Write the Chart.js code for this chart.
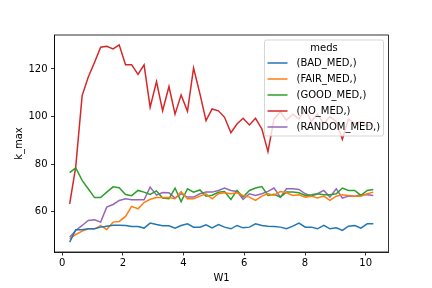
<!DOCTYPE html>
<html>
<head>
<meta charset="utf-8">
<script src="https://cdn.jsdelivr.net/npm/chart.js@4.4.0/dist/chart.umd.min.js"></script>
<style>
  html, body { margin: 0; padding: 0; background: #ffffff; }
  #wrap { width: 432px; height: 288px; }
</style>
</head>
<body>
<div id="wrap"><canvas id="kmaxChart" width="432" height="288"></canvas></div>
<script>
// Données
const W1 = [0.25, 0.45, 0.66, 0.86, 1.07, 1.27, 1.47, 1.68, 1.88, 2.09,
            2.29, 2.50, 2.70, 2.90, 3.11, 3.31, 3.52, 3.72, 3.92, 4.13,
            4.33, 4.54, 4.74, 4.94, 5.15, 5.35, 5.56, 5.76, 5.96, 6.17,
            6.37, 6.58, 6.78, 6.98, 7.19, 7.39, 7.60, 7.80, 8.01, 8.21,
            8.41, 8.62, 8.82, 9.03, 9.23, 9.43, 9.64, 9.84, 10.05, 10.25];

const badMed = [47.3, 52.5, 52.5, 52.9, 52.9, 53.6, 54.0, 54.4, 54.4, 54.3,
                53.9, 53.9, 53.2, 55.3, 54.7, 54.2, 54.2, 53.2, 54.3, 55.0,
                53.6, 53.6, 54.6, 53.3, 54.7, 53.6, 52.9, 54.3, 53.3, 53.6,
                55.0, 54.3, 54.0, 53.9, 53.6, 52.9, 54.0, 55.3, 53.6, 53.6,
                52.9, 54.3, 52.9, 53.3, 52.2, 54.0, 54.3, 53.2, 55.0, 55.0];

const fairMed = [48.7, 50.5, 51.9, 52.9, 52.9, 54.2, 52.6, 55.7, 56.0, 58.1,
                 62.3, 61.3, 63.9, 65.3, 66.0, 66.0, 66.0, 65.5, 68.5, 65.5,
                 65.5, 66.6, 67.6, 65.5, 67.6, 68.0, 67.6, 68.0, 66.9, 66.2,
                 64.8, 66.6, 67.6, 67.0, 68.5, 68.0, 66.9, 67.2, 66.2, 66.6,
                 65.8, 66.6, 64.8, 66.6, 67.2, 66.9, 66.6, 66.6, 67.6, 68.3];

const goodMed = [76.5, 78.5, 73.2, 69.7, 66.0, 66.0, 68.3, 70.5, 70.1, 67.3,
                 66.8, 69.0, 68.3, 67.3, 68.8, 65.8, 65.5, 70.0, 64.3, 69.7,
                 68.3, 69.2, 66.6, 67.0, 68.2, 68.5, 65.2, 69.0, 66.2, 69.0,
                 70.0, 70.6, 66.9, 67.4, 66.2, 68.3, 68.3, 68.0, 66.9, 67.2,
                 67.6, 67.2, 67.2, 67.6, 70.0, 69.0, 69.0, 66.9, 69.0, 69.4];

const noMed = [63.4, 79.0, 108.8, 116.5, 122.8, 129.1, 129.5, 128.4, 130.1, 121.8,
               121.8, 117.7, 121.7, 103.9, 114.7, 102.5, 112.6, 101.0, 109.1, 102.2,
               120.4, 109.5, 98.3, 103.2, 102.4, 99.7, 93.2, 96.9, 99.3, 96.5,
               99.3, 94.8, 85.3, 99.0, 102.0, 98.5, 101.0, 99.0, 103.0, 98.0,
               101.0, 97.0, 100.0, 98.0, 90.5, 99.0, 97.0, 98.0, 96.0, 97.0];

const randomMed = [49.4, 52.2, 54.3, 56.4, 56.7, 55.7, 62.0, 63.1, 64.8, 65.5,
                   65.1, 65.1, 65.1, 70.4, 67.0, 68.1, 68.0, 65.8, 67.6, 66.2,
                   66.2, 67.6, 68.3, 68.3, 69.0, 70.0, 69.0, 68.6, 65.2, 67.6,
                   66.9, 67.6, 68.6, 70.0, 66.2, 69.7, 69.7, 69.4, 67.6, 66.6,
                   67.6, 69.0, 66.2, 69.7, 65.8, 66.6, 66.6, 67.2, 67.2, 66.9];

const seriesLabels = ['(BAD_MED,)', '(FAIR_MED,)', '(GOOD_MED,)', '(NO_MED,)', '(RANDOM_MED,)'];
const xTicks = [0, 2, 4, 6, 8, 10];
const yTicks = [60, 80, 100, 120];

const palette = {
  blue: '#1f77b4',
  orange: '#ff7f0e',
  green: '#2ca02c',
  red: '#d62728',
  purple: '#9467bd'
};
const lineColors = [palette.blue, palette.orange, palette.green, palette.red, palette.purple];
const fontFamily = '"DejaVu Sans", sans-serif';

function toPoints(values) {
  return values.map((v, i) => ({ x: W1[i], y: v }));
}

// Cadre complet (les 4 côtés) comme matplotlib
const framePlugin = {
  id: 'frame',
  afterDatasetsDraw(chart) {
    const { ctx, chartArea: a } = chart;
    ctx.save();
    ctx.strokeStyle = '#000';
    ctx.lineWidth = 0.8;
    ctx.strokeRect(a.left, a.top, a.right - a.left, a.bottom - a.top);
    ctx.restore();
  }
};

// Légende façon matplotlib, en haut à droite
const legendPlugin = {
  id: 'mplLegend',
  afterDatasetsDraw(chart) {
    const { ctx, chartArea: a } = chart;
    const w = 119, h = 96;
    const x0 = a.right - 5 - w, y0 = a.top + 5;
    ctx.save();
    ctx.beginPath();
    ctx.roundRect(x0, y0, w, h, 2);
    ctx.fillStyle = 'rgba(255,255,255,0.8)';
    ctx.fill();
    ctx.strokeStyle = 'rgba(204,204,204,0.8)';
    ctx.lineWidth = 1;
    ctx.stroke();

    ctx.fillStyle = '#000';
    ctx.font = '10px ' + fontFamily;
    ctx.textBaseline = 'middle';
    ctx.textAlign = 'center';
    ctx.fillText('meds', x0 + w / 2, y0 + 8);

    ctx.textAlign = 'left';
    chart.data.datasets.forEach((ds, i) => {
      const ry = y0 + 23 + i * 16;
      ctx.beginPath();
      ctx.moveTo(x0 + 3, ry);
      ctx.lineTo(x0 + 23, ry);
      ctx.strokeStyle = ds.borderColor;
      ctx.lineWidth = 1.5;
      ctx.stroke();
      ctx.fillText(ds.label, x0 + 32, ry);
    });
    ctx.restore();
  }
};

const ctx = document.getElementById('kmaxChart');
new Chart(ctx, {
  type: 'line',
  data: {
    datasets: [badMed, fairMed, goodMed, noMed, randomMed].map((vals, i) => ({
      label: seriesLabels[i],
      data: toPoints(vals),
      borderColor: lineColors[i],
      backgroundColor: lineColors[i],
      borderWidth: 1.5,
      pointRadius: 0,
      tension: 0,
      fill: false
    }))
  },
  options: {
    responsive: false,
    animation: false,
    devicePixelRatio: 1,
    layout: { padding: { top: 35, right: 43.5, left: 0, bottom: 0 } },
    scales: {
      x: {
        type: 'linear',
        min: -0.25,
        max: 10.75,
        afterBuildTicks(scale) { scale.ticks = xTicks.map(v => ({ value: v })); },
        afterFit(scale) { scale.height = 36; },
        grid: { drawOnChartArea: false, tickLength: 3.5, tickColor: '#000', tickWidth: 0.8 },
        border: { display: true, color: '#000', width: 0.8 },
        ticks: { color: '#000', padding: 2, maxRotation: 0, font: { family: fontFamily, size: 10 } },
        title: { display: true, text: 'W1', color: '#000', padding: { top: 0, bottom: 4 }, font: { family: fontFamily, size: 10 } }
      },
      y: {
        type: 'linear',
        min: 43.16,
        max: 134.24,
        afterBuildTicks(scale) { scale.ticks = yTicks.map(v => ({ value: v })); },
        afterFit(scale) { scale.width = 54.5; },
        grid: { drawOnChartArea: false, tickLength: 3.5, tickColor: '#000', tickWidth: 0.8 },
        border: { display: true, color: '#000', width: 0.8 },
        ticks: { color: '#000', padding: 3.5, font: { family: fontFamily, size: 10 } },
        title: { display: true, text: 'k_max', color: '#000', padding: { top: 13, bottom: 0 }, font: { family: fontFamily, size: 10 } }
      }
    },
    plugins: {
      legend: { display: false },
      tooltip: { enabled: false }
    }
  },
  plugins: [framePlugin, legendPlugin]
});
</script>
</body>
</html>
